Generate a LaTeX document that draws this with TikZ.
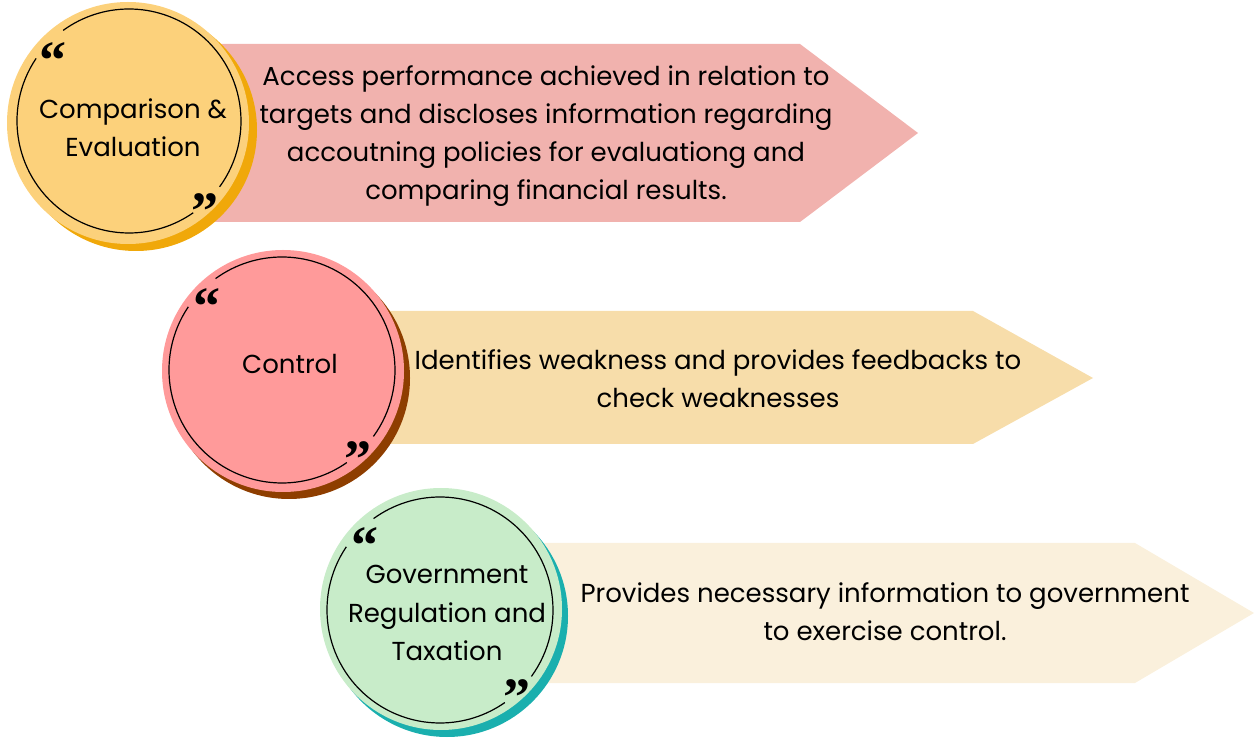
\documentclass[tikz,border=0pt]{standalone}
\usepackage{fontspec}
\setmainfont{Poppins}
\newfontfamily\quotefont{Liberation Serif}
\usetikzlibrary{positioning}
\definecolor{combody}{HTML}{FCD17B}
\definecolor{combshade}{HTML}{F0A80A}
\definecolor{ctrlbody}{HTML}{FF9A9A}
\definecolor{ctrlshade}{HTML}{8E3E00}
\definecolor{govbody}{HTML}{C8ECC9}
\definecolor{govshade}{HTML}{1AAFAE}
\definecolor{combarrow}{HTML}{F1B2AE}
\definecolor{ctrlarrow}{HTML}{F7DDAA}
\definecolor{govarrow}{HTML}{FAF0DC}

\begin{document}
\begin{tikzpicture}[x=1pt,y=1pt,
        banner/.style={align=center,font=\fontsize{26}{38.2}\selectfont},
        disc/.style={circle,minimum size=242pt,inner sep=0pt},
        ring/.style={line width=1.2pt},
        quote/.style={font=\quotefont\fontsize{54}{54}\selectfont\bfseries,inner sep=0pt}]
        \useasboundingbox (0,0) rectangle (1256,737);

        % arrows
        \fill [combarrow] (215,693) -- (800,693) -- (918,604) -- (800,515) -- (215,515) -- cycle;
        \fill [ctrlarrow] (390,426) -- (973,426) -- (1093,359) -- (973,293) -- (390,293) -- cycle;
        \fill [govarrow] (540,194) -- (1135,194) -- (1254,124) -- (1135,54) -- (540,54) -- cycle;

        % comparison & evaluation
        \node [disc,fill=combshade] (combsh) at (136,607) {};
        \node [disc,fill=combody] (comb) at (128,614) {};
        \draw [ring] (129,616) ++(146:112) arc[start angle=146,end angle=305,radius=112];
        \draw [ring] (129,616) ++(-36:112) arc[start angle=-36,end angle=126,radius=112];
        \node [quote] (combq1) at (53,676.5) {“};
        \node [quote] (combq2) at (205,525.5) {”};
        \node [banner] (combtxt) at (133,609) {Comparison \&\\Evaluation};
        \node [banner] (combinfo) at (546,601) {Access performance achieved in relation to\\targets and discloses information regarding\\accoutning policies for evaluationg and\\comparing financial results.};

        % control
        \node [disc,fill=ctrlshade] (ctrlsh) at (289,359) {};
        \node [disc,fill=ctrlbody] (ctrl) at (283,366) {};
        \draw [ring] (282,367) ++(146:113) arc[start angle=146,end angle=305,radius=113];
        \draw [ring] (282,367) ++(-36:113) arc[start angle=-36,end angle=126,radius=113];
        \node [quote] (ctrlq1) at (207,430.5) {“};
        \node [quote] (ctrlq2) at (358,277.5) {”};
        \node [banner] (ctrltxt) at (290,373) {Control};
        \node [banner] (ctrlinfo) at (718,358) {Identifies weakness and provides feedbacks to\\check weaknesses};

        % government regulation and taxation
        \node [disc,fill=govshade] (govsh) at (447,121) {};
        \node [disc,fill=govbody] (gov) at (441,128) {};
        \draw [ring] (440,127) ++(146:113) arc[start angle=146,end angle=305,radius=113];
        \draw [ring] (440,127) ++(-36:113) arc[start angle=-36,end angle=126,radius=113];
        \node [quote] (govq1) at (365,191) {“};
        \node [quote] (govq2) at (517,39.5) {”};
        \node [banner] (govtxt) at (447,124) {Government\\Regulation and\\Taxation};
        \node [banner] (govinfo) at (885,125) {Provides necessary information to government\\to exercise control.};
\end{tikzpicture}
\end{document}
